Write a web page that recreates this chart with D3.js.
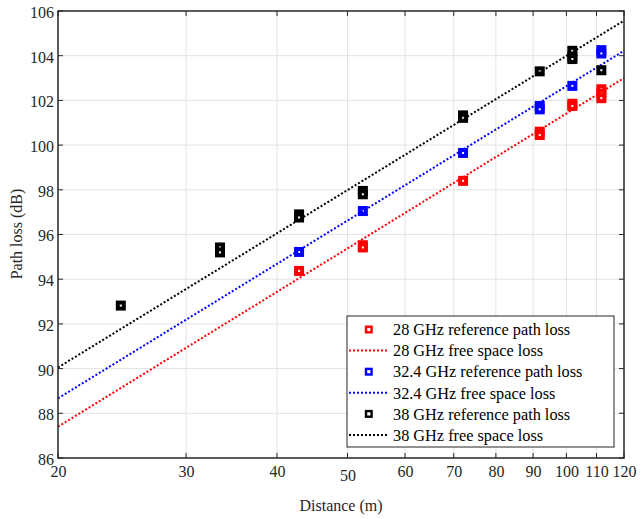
<!DOCTYPE html>
<html>
<head>
<meta charset="utf-8">
<script src="https://cdn.jsdelivr.net/npm/d3@7"></script>
<style>
  body { margin: 0; background: #fff; }
  svg { display: block; font-family: "Liberation Serif", "Times New Roman", serif; }
</style>
</head>
<body>
<svg id="chart" width="644" height="519"></svg>
<script>
// distance ticks and path loss ticks
const xTicks = [20, 30, 40, 50, 60, 70, 80, 90, 100, 110, 120];
const yTicks = [86, 88, 90, 92, 94, 96, 98, 100, 102, 104, 106];

// measured reference path loss [distance m, dB]
const ref28 = [[42.9, 94.37], [52.5, 95.52], [52.5, 95.42], [72.1, 98.4], [91.9, 100.6], [91.9, 100.45],
  [101.9, 101.85], [101.9, 101.75], [111.7, 102.5], [111.7, 102.3], [111.7, 102.1]];
const ref32 = [[42.9, 95.22], [52.5, 97.05], [72.1, 99.65], [91.9, 101.75], [91.9, 101.6],
  [101.9, 102.65], [111.7, 104.25], [111.7, 104.1]];
const ref38 = [[24.4, 92.82], [33.4, 95.42], [33.4, 95.2], [42.9, 96.9], [42.9, 96.76], [52.5, 97.95], [52.5, 97.8],
  [72.1, 101.33], [72.1, 101.22], [91.9, 103.3], [101.9, 104.22], [101.9, 103.95], [101.9, 103.85], [111.7, 103.35]];

// free space loss lines (straight on log axis)
const fs28 = [[20, 87.4], [120, 103.0]];
const fs32 = [[20, 88.67], [120, 104.22]];
const fs38 = [[20, 90.05], [120, 105.57]];

const legendLabels = ["28 GHz reference path loss", "28 GHz free space loss",
  "32.4 GHz reference path loss", "32.4 GHz free space loss",
  "38 GHz reference path loss", "38 GHz free space loss"];

const margin = {top: 11, left: 58, right: 20, bottom: 61};
const width = 644, height = 519;
const iw = width - margin.left - margin.right;
const ih = height - margin.top - margin.bottom;
const axisColor = "#262626";
const fontFam = "Liberation Serif, Times New Roman, serif";

const svg = d3.select("#chart");
const g = svg.append("g").attr("transform", `translate(${margin.left},${margin.top})`);

const x = d3.scaleLog().domain([20, 120]).range([0, iw]);
const y = d3.scaleLinear().domain([86, 106]).range([ih, 0]);

// grid
g.append("g").selectAll("line").data(xTicks.slice(1, -1)).join("line")
  .attr("x1", d => x(d)).attr("x2", d => x(d)).attr("y1", 0).attr("y2", ih)
  .attr("stroke", "#e3e3e3").attr("stroke-width", 1);
g.append("g").selectAll("line").data(yTicks.slice(1, -1)).join("line")
  .attr("y1", d => y(d)).attr("y2", d => y(d)).attr("x1", 0).attr("x2", iw)
  .attr("stroke", "#e3e3e3").attr("stroke-width", 1);

const series = [
  {ref: ref28, fs: fs28, color: "#ff0000"},
  {ref: ref32, fs: fs32, color: "#0000ff"},
  {ref: ref38, fs: fs38, color: "#000000"}
];

const line = d3.line().x(d => x(d[0])).y(d => y(d[1]));

series.forEach(s => {
  g.append("g").selectAll("rect").data(s.ref).join("rect")
    .attr("x", d => x(d[0]) - 3).attr("y", d => y(d[1]) - 3)
    .attr("width", 6).attr("height", 6)
    .attr("fill", "#fff").attr("stroke", s.color).attr("stroke-width", 4);
  g.append("path").datum(s.fs).attr("d", line)
    .attr("fill", "none").attr("stroke", s.color).attr("stroke-width", 2)
    .attr("stroke-dasharray", "2,2");
});

// axes box
const xAxis = d3.axisBottom(x).tickValues(xTicks).tickSize(0).tickFormat(d3.format("d"));
const gx = g.append("g").attr("transform", `translate(0,${ih})`).call(xAxis);
gx.select(".domain").remove();
gx.selectAll("text").attr("font-size", 16).attr("fill", axisColor)
  .attr("font-family", fontFam)
  .attr("y", 8).attr("dy", "0.71em")
  .filter(d => d === 50).attr("y", 12);

const yAxis = d3.axisLeft(y).tickValues(yTicks).tickSize(0);
const gy = g.append("g").call(yAxis);
gy.select(".domain").remove();
gy.selectAll("text").attr("font-size", 16).attr("fill", axisColor)
  .attr("font-family", fontFam)
  .attr("x", -4).attr("dy", "0.4em");

// inward ticks
g.append("g").selectAll("line").data(xTicks).join("line")
  .attr("x1", d => x(d)).attr("x2", d => x(d)).attr("y1", ih).attr("y2", ih - 5)
  .attr("stroke", axisColor);
g.append("g").selectAll("line").data(xTicks).join("line")
  .attr("x1", d => x(d)).attr("x2", d => x(d)).attr("y1", 0).attr("y2", 5)
  .attr("stroke", axisColor);
g.append("g").selectAll("line").data(yTicks).join("line")
  .attr("y1", d => y(d)).attr("y2", d => y(d)).attr("x1", 0).attr("x2", 5)
  .attr("stroke", axisColor);
g.append("g").selectAll("line").data(yTicks).join("line")
  .attr("y1", d => y(d)).attr("y2", d => y(d)).attr("x1", iw).attr("x2", iw - 5)
  .attr("stroke", axisColor);

g.append("rect").attr("width", iw).attr("height", ih)
  .attr("fill", "none").attr("stroke", axisColor).attr("stroke-width", 1.5);

// axis labels
svg.append("text").attr("x", margin.left + iw / 2).attr("y", 511)
  .attr("text-anchor", "middle").attr("font-size", 16).attr("fill", axisColor)
  .text("Distance (m)");
svg.append("text").attr("transform", "translate(22,234) rotate(-90)")
  .attr("text-anchor", "middle").attr("font-size", 16).attr("fill", axisColor)
  .text("Path loss (dB)");

// legend
const lg = svg.append("g").attr("transform", "translate(347,316)");
lg.append("rect").attr("width", 267).attr("height", 131)
  .attr("fill", "#fff").attr("stroke", axisColor).attr("stroke-width", 1);
const items = lg.selectAll("g").data(legendLabels).join("g")
  .attr("transform", (d, i) => `translate(0,${13.5 + i * 21.1})`);
items.append("text").attr("x", 46).attr("dy", "0.35em")
  .attr("font-size", 16.3).attr("fill", "#000").text(d => d);
items.each(function(d, i) {
  const c = series[Math.floor(i / 2)].color;
  const sel = d3.select(this);
  if (i % 2 === 0) {
    sel.append("rect").attr("x", 19).attr("y", -2.8).attr("width", 5.6).attr("height", 5.6)
      .attr("fill", "#fff").attr("stroke", c).attr("stroke-width", 2.4);
  } else {
    sel.append("line").attr("x1", 2).attr("x2", 40).attr("y1", 0).attr("y2", 0)
      .attr("stroke", c).attr("stroke-width", 2).attr("stroke-dasharray", "2,2");
  }
});
</script>
</body>
</html>
